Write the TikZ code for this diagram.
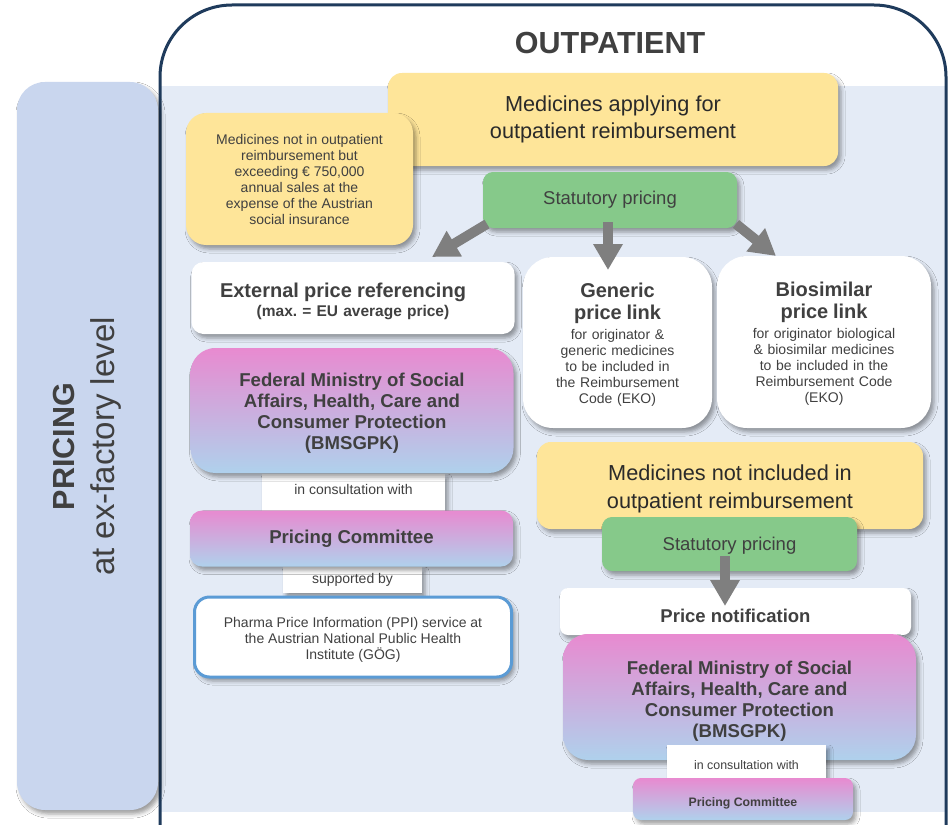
\documentclass[tikz,border=0pt]{standalone}
\usepackage{fontspec}
\setmainfont{Liberation Sans}
\usetikzlibrary{arrows.meta,shadows.blur}
\definecolor{pan}{HTML}{C9D6EE}
\definecolor{bgc}{HTML}{E4EBF6}
\definecolor{frm}{HTML}{1F3B5C}
\definecolor{yel}{HTML}{FEE599}
\definecolor{grn}{HTML}{86C98A}
\definecolor{pnk}{HTML}{E88AD0}
\definecolor{lbl}{HTML}{AFD1EC}
\definecolor{txt}{HTML}{404040}
\definecolor{dtxt}{HTML}{2A2A2A}
\definecolor{ppib}{HTML}{5B9BD5}
\definecolor{arr}{HTML}{7F7F7F}
\newcommand\fsz[2]{\fontsize{#1}{#2}\selectfont}
\frenchspacing
\begin{document}
\begin{tikzpicture}[x=1pt,y=-1pt,
  shad/.style={blur shadow={shadow xshift=3pt,shadow yshift=-4pt,shadow blur radius=4pt,shadow opacity=38}},
  box/.style={inner sep=0pt, align=center, text=txt, shad},
  tx/.style={inner sep=0pt, align=center, text=txt},
  ybox/.style={box, fill=yel, text=dtxt},
  gbox/.style={box, fill=grn, rounded corners=10pt},
  wbox/.style={box, fill=white},
  mbox/.style={box, top color=pnk, bottom color=lbl},
  bigarrow/.style={draw=arr, line width=10pt, -{Triangle[width=28pt,length=26pt]}},
]
\useasboundingbox (0,0) rectangle (949,824);
\fill[white] (0,0) rectangle (949,824);
% background and frame
\fill[bgc] (161,86) rectangle (945,812);
\draw[frm, line width=3pt, rounded corners=72pt] (160,830) -- (160,5) -- (946,5) -- (946,830);
\node[tx, font=\fsz{30.5}{34}\bfseries] (outp) at (610,43) {OUTPATIENT};
% left panel
\node[box, fill=pan, rounded corners=28pt, minimum width=141pt, minimum height=728pt] (panel) at (87.5,446) {};
\node[tx, font=\fsz{30.5}{34}\bfseries, rotate=90] (pric) at (64,446.5) {PRICING};
\node[tx, font=\fsz{33}{38}, rotate=90] (exf) at (105.5,446.5) {at ex-factory level};
% top yellow boxes
\node[ybox, rounded corners=14pt, minimum width=450pt, minimum height=93pt, font=\fsz{21.7}{27.5}] (ya) at (613,119.5) {Medicines applying for\\outpatient reimbursement};
\node[ybox, rounded corners=20pt, minimum width=227pt, minimum height=132pt, font=\fsz{14}{16}, text=txt] (yb) at (299.5,179) {Medicines not in outpatient\\reimbursement but\\exceeding € 750,000\\annual sales at the\\expense of the Austrian\\social insurance};
% white boxes
\node[wbox, rounded corners=12pt, minimum width=323pt, minimum height=72pt] (epr) at (353,298) {};
\node[tx, text width=320pt, font=\fsz{15.5}{19}\bfseries] (eprt) at ([yshift=-3pt]epr.center) {{\fsz{20}{21}\bfseries External price referencing\hspace*{20pt}\par}(max. = EU average price)};
\node[wbox, rounded corners=30pt, minimum width=189pt, minimum height=171pt] (gen) at (617.5,342.5) {};
\node[tx, text width=185pt, font=\fsz{14}{16}] (gent) at ([yshift=-2pt]gen.center) {{\fsz{20}{22}\bfseries Generic\\price link\par}\vspace{4pt}for originator \&\\generic medicines\\to be included in\\the Reimbursement\\Code (EKO)};
\node[wbox, rounded corners=30pt, minimum width=214pt, minimum height=172pt] (bio) at (824,342) {};
\node[tx, text width=210pt, font=\fsz{14}{16}] (biot) at ([yshift=-2pt]bio.center) {{\fsz{20}{22}\bfseries Biosimilar\\price link\par}\vspace{4pt}for originator biological\\\& biosimilar medicines\\to be included in the\\Reimbursement Code\\(EKO)};
% left column
\node[wbox, minimum width=183pt, minimum height=37pt] (cons1) at (353.5,492.5) {};
\node[tx, font=\fsz{14}{16}] (cons1t) at ([yshift=3pt]cons1.center) {in consultation with};
\node[mbox, rounded corners=25pt, minimum width=323pt, minimum height=125pt] (fm1) at (352,410.5) {};
\node[tx, font=\fsz{18.6}{21}\bfseries] (fm1t) at ([yshift=-3pt]fm1.center) {Federal Ministry of Social\\Affairs, Health, Care and\\Consumer Protection\\(BMSGPK)};
\node[wbox, minimum width=139pt, minimum height=26pt, font=\fsz{14}{16}] (sup) at (352.5,580) {supported by};
\node[mbox, rounded corners=12pt, minimum width=323pt, minimum height=56pt, font=\fsz{18.6}{21}\bfseries] (pc1) at (351.5,538.5) {Pricing Committee};
\node[wbox, draw=ppib, line width=3pt, rounded corners=15pt, minimum width=317pt, minimum height=80pt] (ppi) at (353,637) {};
\node[tx, font=\fsz{14}{16}] (ppit) at ([yshift=-3pt]ppi.center) {Pharma Price Information (PPI) service at\\the Austrian National Public Health\\Institute (GÖG)};
% right column
\node[ybox, rounded corners=14pt, minimum width=386pt, minimum height=87pt] (yc) at (730,485.5) {};
\node[tx, text=dtxt, font=\fsz{21.7}{28}] (yct) at ([yshift=-3pt]yc.center) {Medicines not included in\\outpatient reimbursement};
\node[gbox, minimum width=255pt, minimum height=54pt] (sp2) at (729.5,544) {};
\node[tx, font=\fsz{18.5}{21}] (sp2t) at ([yshift=-2pt]sp2.center) {Statutory pricing};
\node[wbox, rounded corners=8pt, minimum width=351pt, minimum height=47pt] (pn) at (735.5,611.5) {};
\node[tx, font=\fsz{18.5}{21}\bfseries] (pnt) at ([yshift=-4pt]pn.center) {Price notification};
\node[mbox, rounded corners=25pt, minimum width=353pt, minimum height=126pt] (fm2) at (739.5,697) {};
\node[tx, font=\fsz{18.6}{21}\bfseries] (fm2t) at ([yshift=-4pt]fm2.center) {Federal Ministry of Social\\Affairs, Health, Care and\\Consumer Protection\\(BMSGPK)};
\node[wbox, minimum width=159pt, minimum height=33pt] (cons2) at (746.5,761.5) {};
\node[tx, font=\fsz{12.4}{14}] (cons2t) at ([yshift=-4pt]cons2.center) {in consultation with};
\node[mbox, rounded corners=8pt, minimum width=220pt, minimum height=42pt] (pc2) at (743,799) {};
\node[tx, font=\fsz{12.3}{14}\bfseries] (pc2t) at ([yshift=-4pt]pc2.center) {Pricing Committee};
% green top
\node[gbox, minimum width=254pt, minimum height=56pt, font=\fsz{18.5}{21}] (sp1) at (610,200) {Statutory pricing};
% arrows
\coordinate (a1s) at (487,224);
\coordinate (a1e) at (432,257);
\coordinate (a2s) at (608,222);
\coordinate (a2e) at (608,270);
\coordinate (a3s) at (736,224);
\coordinate (a3e) at (776,256);
\coordinate (a4s) at (725,556);
\coordinate (a4e) at (725,606);
\draw[bigarrow] (a1s) -- (a1e);
\draw[bigarrow] (a2s) -- (a2e);
\draw[bigarrow] (a3s) -- (a3e);
\draw[bigarrow] (a4s) -- (a4e);
\end{tikzpicture}
\end{document}
